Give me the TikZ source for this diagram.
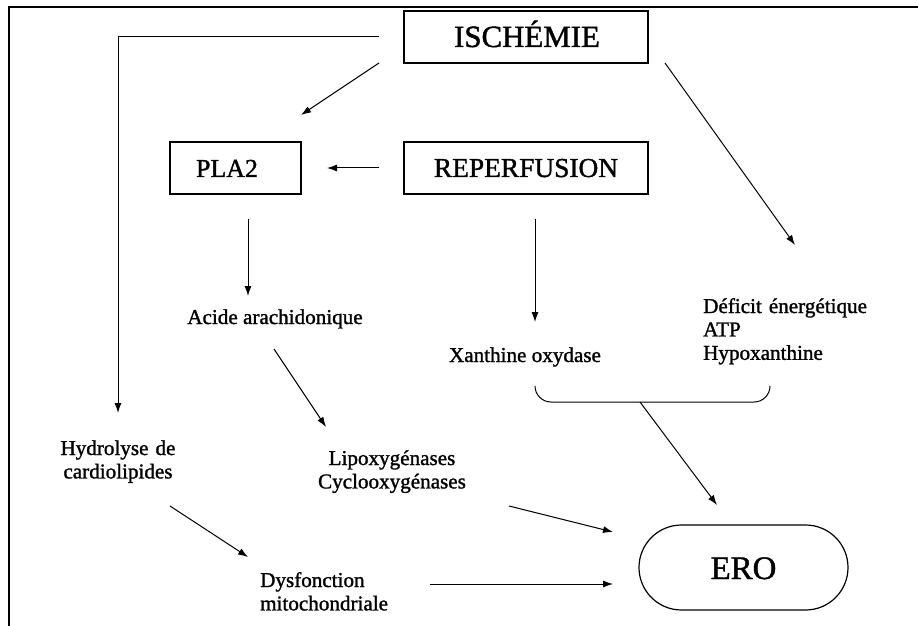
\documentclass[tikz,border=0pt]{standalone}
\usepackage{fontspec}
\setmainfont{Liberation Serif}[UprightFeatures={FakeBold=1.3}]
\usetikzlibrary{arrows.meta,shapes.misc}

\begin{document}
\begin{tikzpicture}[x=1bp,y=-1bp,
  box/.style={draw, line width=1.2bp, rectangle, inner sep=0pt,
              minimum height=52bp},
  arr/.style={-{Latex[length=10bp,width=7bp]}, line width=1bp},
  lbl/.style={inner sep=0pt, font=\fontsize{21.2}{23.5}\selectfont},
  big/.style={font=\fontsize{31}{34}\selectfont}]
\useasboundingbox (0,0) rectangle (918,626);

% outer frame (left and top edges)
\draw[line width=1.2bp] (9,626) -- (9,7) -- (918,7);

% boxed stages
\node[box, minimum width=244bp] (isch) at (526,37) {};
\node[big, anchor=base] (ischt) at (527,47) {ISCHÉMIE};
\node[box, minimum width=131bp] (pla) at (235.5,168) {};
\node[anchor=base, font=\fontsize{26}{30}\selectfont] (plat) at (227,177) {PLA2};
\node[box, minimum width=244bp] (rep) at (526,168) {};
\node[anchor=base, font=\fontsize{27.5}{30}\selectfont] (rept) at (526,177) {REPERFUSION};
\node[draw, line width=1.2bp, rounded rectangle, minimum width=209bp,
      minimum height=85bp, inner sep=0pt] (ero) at (743.5,567.5) {};
\node[anchor=base, font=\fontsize{33}{36}\selectfont] (erot) at (743.5,579) {ERO};

% plain text stages
\node[lbl, anchor=base] (aa) at (275,324) {Acide arachidonique};
\node[lbl, anchor=base] (xo) at (525,362) {Xanthine oxydase};
\node[lbl, anchor=base west, text width=180bp, align=left] (def) at (703,313)
  {Déficit énergétique\\ATP\\Hypoxanthine};
\node[lbl, anchor=base, text width=180bp, align=center] (hyd) at (118,455)
  {Hydrolyse de\\cardiolipides};
\node[lbl, anchor=base, text width=200bp, align=center] (lipo) at (392,465)
  {Lipoxygénases\\Cyclooxygénases};
\node[lbl, anchor=base west, text width=180bp, align=left] (dys) at (260,587)
  {Dysfonction\\mitochondriale};

% connector end points
\coordinate (i1) at (379,37);
\coordinate (i1c) at (118,37);
\coordinate (i1e) at (118,413);
\coordinate (i2) at (379,63);
\coordinate (i2e) at (301,115);
\coordinate (i3) at (665,63);
\coordinate (i3e) at (795,245);
\coordinate (r1) at (379,168);
\coordinate (r1e) at (327,168);
\coordinate (r2) at (535,219);
\coordinate (r2e) at (535,322);
\coordinate (p1) at (248,219);
\coordinate (p1e) at (248,296);
\coordinate (a1) at (274,349);
\coordinate (a1e) at (326,427);
\coordinate (h1) at (170,506);
\coordinate (h1e) at (248,557);
\coordinate (d1) at (430,584);
\coordinate (d1e) at (613,584);
\coordinate (l1) at (509,506);
\coordinate (l1e) at (613,532);
\coordinate (bl) at (535,386);
\coordinate (br) at (770,386);
\coordinate (b1) at (640,402);
\coordinate (b1e) at (717,505);

% connectors
\draw[arr] (i1) -- (i1c) -- (i1e);
\draw[arr] (i2) -- (i2e);
\draw[arr] (i3) -- (i3e);
\draw[arr] (r1) -- (r1e);
\draw[arr] (r2) -- (r2e);
\draw[arr] (p1) -- (p1e);
\draw[arr] (a1) -- (a1e);
\draw[arr] (h1) -- (h1e);
\draw[arr] (d1) -- (d1e);
\draw[arr] (l1) -- (l1e);

% bracket joining the two xanthine-related stages
\draw[line width=1bp, rounded corners=16bp] (bl) -- (535,402) -- (770,402) -- (br);
\draw[arr] (b1) -- (b1e);
\end{tikzpicture}
\end{document}
